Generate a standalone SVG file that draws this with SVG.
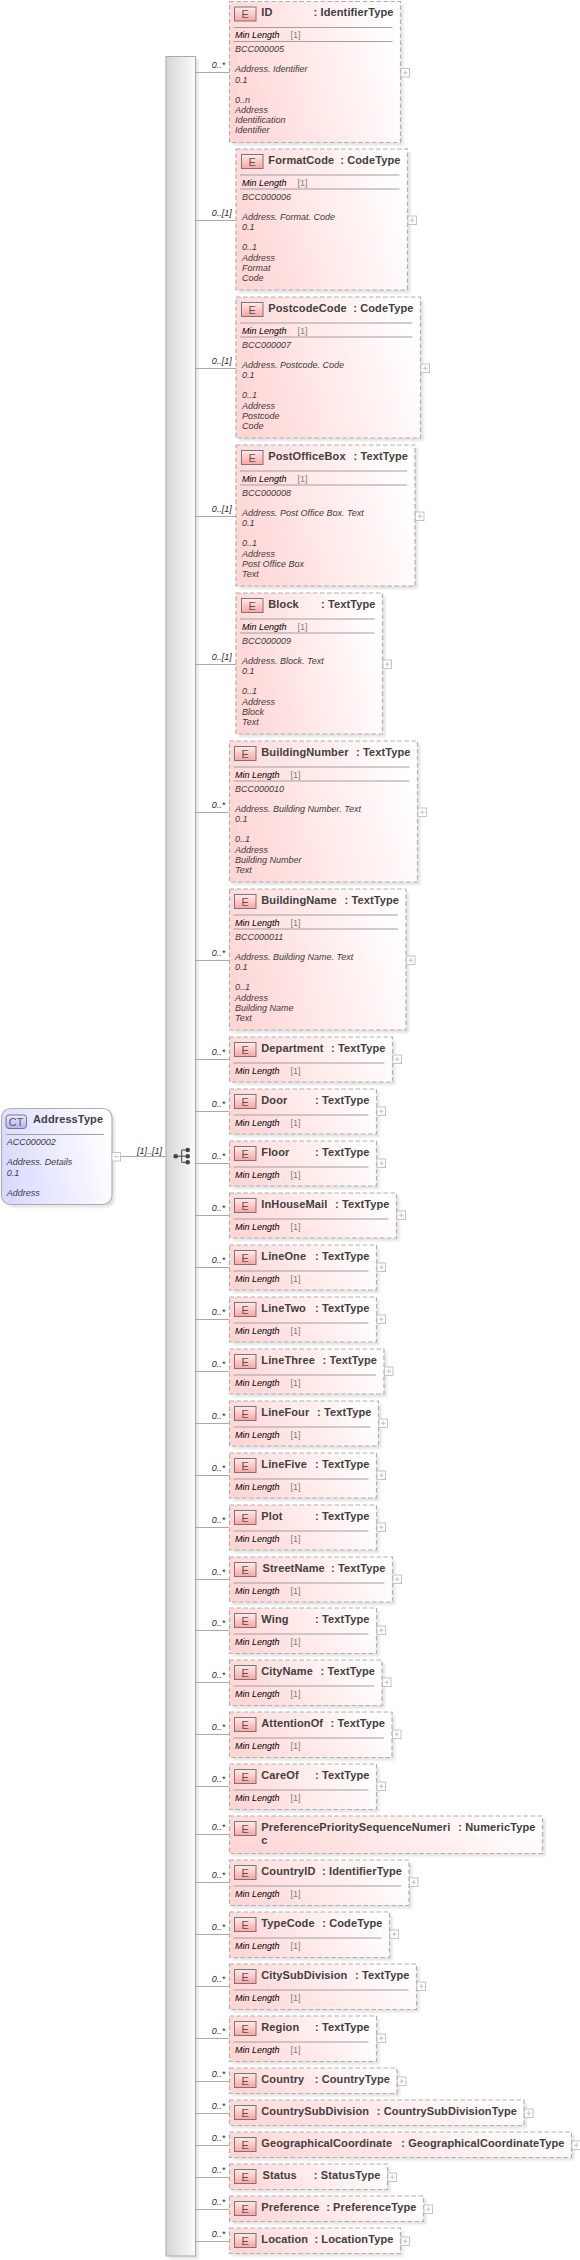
<svg xmlns="http://www.w3.org/2000/svg" width="580" height="2260" viewBox="0 0 580 2260">
<style>
text{font-family:"Liberation Sans",Arial,sans-serif}
.t{font-size:11px;font-weight:700;fill:#404040;letter-spacing:.12px}
.e{font-size:11px;fill:#555;text-anchor:middle}
.i{font-size:9px;font-style:italic;fill:#3c3c3c}
.m{font-size:9px;font-style:italic;fill:#000}
.c{font-size:9px;fill:#808080}
.l{font-size:9px;font-style:italic;fill:#2a2a2a}
.box{fill:url(#pink);stroke:#b0b0b0;stroke-width:1.2;stroke-dasharray:4.5 2.5}
.sh{fill:#000;opacity:.1;filter:url(#blur)}
.ic{fill:url(#iconE);stroke:#777;stroke-width:1}
.dv{stroke:#a0a0a0;stroke-width:1;fill:none}
.pb{fill:#fff;stroke:#c4c4c4;stroke-width:1}
.pg{stroke:#c4c4c4;stroke-width:1;fill:none}
.con{stroke:#aaa;stroke-width:1;fill:none}
</style>
<defs>
<linearGradient id="pink" x1="0" y1="0.6" x2="1" y2="0.4"><stop offset="0" stop-color="#ffd6d6"/><stop offset="1" stop-color="#fff"/></linearGradient>
<linearGradient id="blue" x1="0" y1="0.6" x2="1" y2="0.4"><stop offset="0" stop-color="#d9d9ff"/><stop offset="1" stop-color="#fff"/></linearGradient>
<linearGradient id="iconE" x1="0" y1="0" x2="0" y2="1"><stop offset="0" stop-color="#ffecec"/><stop offset="1" stop-color="#ffa4a4"/></linearGradient>
<linearGradient id="iconC" x1="0" y1="0" x2="0" y2="1"><stop offset="0" stop-color="#ececff"/><stop offset="1" stop-color="#b0b0f4"/></linearGradient>
<linearGradient id="bar" x1="0" y1="0" x2="1" y2="0"><stop offset="0" stop-color="#d6d6d6"/><stop offset="1" stop-color="#fbfbfb"/></linearGradient>
<filter id="blur" x="-5%" y="-5%" width="110%" height="110%"><feGaussianBlur stdDeviation="1.2"/></filter>
<path id="plus" class="pg" d="M2 4.250H6.500M4.250 2V6.500"/>
</defs>

<g id="compositor">
<rect class="sh" x="169" y="59" width="29.500" height="2200"/>
<rect x="166" y="56.500" width="29.500" height="2199.500" fill="url(#bar)" stroke="#aaa" stroke-width="1"/>
<g fill="#444" stroke="#444" stroke-width="1">
<circle cx="175.700" cy="1156.200" r="2.300" stroke="none"/>
<path d="M175.700 1156.200H187.700M181.700 1150V1162.300M181.700 1150H187.700M181.700 1162.300H187.700" fill="none"/>
<circle cx="187.700" cy="1150" r="2.300" stroke="none"/><circle cx="187.700" cy="1156.200" r="2.300" stroke="none"/><circle cx="187.700" cy="1162.300" r="2.300" stroke="none"/>
</g>
</g>

<g id="connectors" class="con">
<path d="M121 1156.500H166"/>
<path d="M195.500 72.500H229.500M195.500 220.500H236M195.500 368.500H236M195.500 516.500H236M195.500 664.500H236M195.500 812.500H229.500M195.500 960.500H229.500M195.500 1059.500H229.500M195.500 1111.500H229.500M195.500 1163.500H229.500M195.500 1215.500H229.500M195.500 1267.500H229.500M195.500 1319.500H229.500M195.500 1371.500H229.500M195.500 1423.500H229.500M195.500 1475.500H229.500M195.500 1527.500H229.500M195.500 1579.500H229.500M195.500 1630.500H229.500M195.500 1682.500H229.500M195.500 1734.500H229.500M195.500 1786.500H229.500M195.500 1834.500H229.500M195.500 1882.500H229.500M195.500 1934.500H229.500M195.500 1986.500H229.500M195.500 2038.500H229.500M195.500 2081.500H229.500M195.500 2113.500H229.500M195.500 2145.500H229.500M195.500 2177.500H229.500M195.500 2209.500H229.500M195.500 2241.500H229.500"/>
</g>
<g id="connector-labels">
<text class="l" x="137" y="1154">[1]..[1]</text>
<text class="l" x="211.700" y="68">0..*</text><text class="l" x="211.700" y="216">0..[1]</text><text class="l" x="211.700" y="364">0..[1]</text><text class="l" x="211.700" y="512">0..[1]</text><text class="l" x="211.700" y="660">0..[1]</text><text class="l" x="211.700" y="808">0..*</text><text class="l" x="211.700" y="956">0..*</text><text class="l" x="211.700" y="1055">0..*</text><text class="l" x="211.700" y="1107">0..*</text><text class="l" x="211.700" y="1159">0..*</text><text class="l" x="211.700" y="1211">0..*</text><text class="l" x="211.700" y="1263">0..*</text><text class="l" x="211.700" y="1315">0..*</text><text class="l" x="211.700" y="1367">0..*</text><text class="l" x="211.700" y="1419">0..*</text><text class="l" x="211.700" y="1471">0..*</text><text class="l" x="211.700" y="1523">0..*</text><text class="l" x="211.700" y="1575">0..*</text><text class="l" x="211.700" y="1626">0..*</text><text class="l" x="211.700" y="1678">0..*</text><text class="l" x="211.700" y="1730">0..*</text><text class="l" x="211.700" y="1782">0..*</text><text class="l" x="211.700" y="1830">0..*</text><text class="l" x="211.700" y="1878">0..*</text><text class="l" x="211.700" y="1930">0..*</text><text class="l" x="211.700" y="1982">0..*</text><text class="l" x="211.700" y="2034">0..*</text><text class="l" x="211.700" y="2077">0..*</text><text class="l" x="211.700" y="2109">0..*</text><text class="l" x="211.700" y="2141">0..*</text><text class="l" x="211.700" y="2173">0..*</text><text class="l" x="211.700" y="2205">0..*</text><text class="l" x="211.700" y="2237">0..*</text>
</g>

<g id="AddressType">
<rect class="sh" x="4.500" y="1111" width="110.500" height="96.500" rx="9"/>
<rect x="1.500" y="1108.500" width="110.500" height="96" rx="9" fill="url(#blue)" stroke="#b0b0b0" stroke-width="1.200"/>
<rect x="6" y="1115" width="20.500" height="13.500" rx="3" fill="url(#iconC)" stroke="#777"/>
<text class="e" x="16.200" y="1126">CT</text>
<text class="t" x="33" y="1123">AddressType</text>
<path class="dv" d="M6 1134.500H104"/>
<text class="i" x="6.700" y="1145">ACC000002</text>
<text class="i" x="6.700" y="1165">Address. Details</text>
<text class="i" x="6.700" y="1175.500">0.1</text>
<text class="i" x="6.700" y="1196">Address</text>
<rect class="pb" x="112" y="1152.500" width="8.500" height="8.500"/>
<path class="pg" d="M114 1156.750H118.500"/>
</g>

<g id="ID" transform="translate(229.500,1.500)"><rect class="sh" x="3" y="3" width="171" height="141"/><rect class="box" width="171" height="141"/><rect class="ic" x="5" y="5.500" width="21.500" height="14"/><text class="e" x="15.700" y="16.500">E</text><text class="t" x="31.800" y="14.800">ID</text><text class="t" x="164" y="14.800" text-anchor="end">: IdentifierType</text><path class="dv" d="M4 26H163M4 40H163"/><text class="m" x="5.500" y="36.500">Min Length</text><text class="c" x="61" y="36.500">[1]</text><text class="i" x="5.500" y="50.500">BCC000005</text><text class="i" x="5.500" y="70.800">Address. Identifier</text><text class="i" x="5.500" y="81">0.1</text><text class="i" x="5.500" y="101.300">0..n</text><text class="i" x="5.500" y="111.500">Address</text><text class="i" x="5.500" y="121.600">Identification</text><text class="i" x="5.500" y="131.700">Identifier</text><rect class="pb" x="171.500" y="67" width="8.500" height="8.500"/><use href="#plus" x="171.500" y="67"/></g>

<g id="FormatCode" transform="translate(236,149)"><rect class="sh" x="3" y="3" width="171.500" height="141"/><rect class="box" width="171.500" height="141"/><rect class="ic" x="5.500" y="5.500" width="21.500" height="14"/><text class="e" x="16.200" y="16.500">E</text><text class="t" x="32.300" y="14.800">FormatCode</text><text class="t" x="164.500" y="14.800" text-anchor="end">: CodeType</text><path class="dv" d="M4 26H163.500M4 40H163.500"/><text class="m" x="6" y="36.500">Min Length</text><text class="c" x="61.500" y="36.500">[1]</text><text class="i" x="6" y="50.500">BCC000006</text><text class="i" x="6" y="70.800">Address. Format. Code</text><text class="i" x="6" y="81">0.1</text><text class="i" x="6" y="101.300">0..1</text><text class="i" x="6" y="111.500">Address</text><text class="i" x="6" y="121.600">Format</text><text class="i" x="6" y="131.700">Code</text><rect class="pb" x="172" y="67" width="8.500" height="8.500"/><use href="#plus" x="172" y="67"/></g>

<g id="PostcodeCode" transform="translate(236,297)"><rect class="sh" x="3" y="3" width="184.500" height="141"/><rect class="box" width="184.500" height="141"/><rect class="ic" x="5.500" y="5.500" width="21.500" height="14"/><text class="e" x="16.200" y="16.500">E</text><text class="t" x="32.300" y="14.800">PostcodeCode</text><text class="t" x="177.500" y="14.800" text-anchor="end">: CodeType</text><path class="dv" d="M4 26H176.500M4 40H176.500"/><text class="m" x="6" y="36.500">Min Length</text><text class="c" x="61.500" y="36.500">[1]</text><text class="i" x="6" y="50.500">BCC000007</text><text class="i" x="6" y="70.800">Address. Postcode. Code</text><text class="i" x="6" y="81">0.1</text><text class="i" x="6" y="101.300">0..1</text><text class="i" x="6" y="111.500">Address</text><text class="i" x="6" y="121.600">Postcode</text><text class="i" x="6" y="131.700">Code</text><rect class="pb" x="185" y="67" width="8.500" height="8.500"/><use href="#plus" x="185" y="67"/></g>

<g id="PostOfficeBox" transform="translate(236,445)"><rect class="sh" x="3" y="3" width="179" height="141"/><rect class="box" width="179" height="141"/><rect class="ic" x="5.500" y="5.500" width="21.500" height="14"/><text class="e" x="16.200" y="16.500">E</text><text class="t" x="32.300" y="14.800">PostOfficeBox</text><text class="t" x="172" y="14.800" text-anchor="end">: TextType</text><path class="dv" d="M4 26H171M4 40H171"/><text class="m" x="6" y="36.500">Min Length</text><text class="c" x="61.500" y="36.500">[1]</text><text class="i" x="6" y="50.500">BCC000008</text><text class="i" x="6" y="70.800">Address. Post Office Box. Text</text><text class="i" x="6" y="81">0.1</text><text class="i" x="6" y="101.300">0..1</text><text class="i" x="6" y="111.500">Address</text><text class="i" x="6" y="121.600">Post Office Box</text><text class="i" x="6" y="131.700">Text</text><rect class="pb" x="179.500" y="67" width="8.500" height="8.500"/><use href="#plus" x="179.500" y="67"/></g>

<g id="Block" transform="translate(236,593)"><rect class="sh" x="3" y="3" width="146.500" height="141"/><rect class="box" width="146.500" height="141"/><rect class="ic" x="5.500" y="5.500" width="21.500" height="14"/><text class="e" x="16.200" y="16.500">E</text><text class="t" x="32.300" y="14.800">Block</text><text class="t" x="139.500" y="14.800" text-anchor="end">: TextType</text><path class="dv" d="M4 26H138.500M4 40H138.500"/><text class="m" x="6" y="36.500">Min Length</text><text class="c" x="61.500" y="36.500">[1]</text><text class="i" x="6" y="50.500">BCC000009</text><text class="i" x="6" y="70.800">Address. Block. Text</text><text class="i" x="6" y="81">0.1</text><text class="i" x="6" y="101.300">0..1</text><text class="i" x="6" y="111.500">Address</text><text class="i" x="6" y="121.600">Block</text><text class="i" x="6" y="131.700">Text</text><rect class="pb" x="147" y="67" width="8.500" height="8.500"/><use href="#plus" x="147" y="67"/></g>

<g id="BuildingNumber" transform="translate(229.500,741)"><rect class="sh" x="3" y="3" width="188" height="141"/><rect class="box" width="188" height="141"/><rect class="ic" x="5" y="5.500" width="21.500" height="14"/><text class="e" x="15.700" y="16.500">E</text><text class="t" x="31.800" y="14.800">BuildingNumber</text><text class="t" x="181" y="14.800" text-anchor="end">: TextType</text><path class="dv" d="M4 26H180M4 40H180"/><text class="m" x="5.500" y="36.500">Min Length</text><text class="c" x="61" y="36.500">[1]</text><text class="i" x="5.500" y="50.500">BCC000010</text><text class="i" x="5.500" y="70.800">Address. Building Number. Text</text><text class="i" x="5.500" y="81">0.1</text><text class="i" x="5.500" y="101.300">0..1</text><text class="i" x="5.500" y="111.500">Address</text><text class="i" x="5.500" y="121.600">Building Number</text><text class="i" x="5.500" y="131.700">Text</text><rect class="pb" x="188.500" y="67" width="8.500" height="8.500"/><use href="#plus" x="188.500" y="67"/></g>

<g id="BuildingName" transform="translate(229.500,889)"><rect class="sh" x="3" y="3" width="176.500" height="141"/><rect class="box" width="176.500" height="141"/><rect class="ic" x="5" y="5.500" width="21.500" height="14"/><text class="e" x="15.700" y="16.500">E</text><text class="t" x="31.800" y="14.800">BuildingName</text><text class="t" x="169.500" y="14.800" text-anchor="end">: TextType</text><path class="dv" d="M4 26H168.500M4 40H168.500"/><text class="m" x="5.500" y="36.500">Min Length</text><text class="c" x="61" y="36.500">[1]</text><text class="i" x="5.500" y="50.500">BCC000011</text><text class="i" x="5.500" y="70.800">Address. Building Name. Text</text><text class="i" x="5.500" y="81">0.1</text><text class="i" x="5.500" y="101.300">0..1</text><text class="i" x="5.500" y="111.500">Address</text><text class="i" x="5.500" y="121.600">Building Name</text><text class="i" x="5.500" y="131.700">Text</text><rect class="pb" x="177" y="67" width="8.500" height="8.500"/><use href="#plus" x="177" y="67"/></g>

<g id="Department" transform="translate(229.500,1037)"><rect class="sh" x="3" y="3" width="163" height="45"/><rect class="box" width="163" height="45"/><rect class="ic" x="5" y="5.500" width="21.500" height="14"/><text class="e" x="15.700" y="16.500">E</text><text class="t" x="31.800" y="14.800">Department</text><text class="t" x="156" y="14.800" text-anchor="end">: TextType</text><path class="dv" d="M4 26H155"/><text class="m" x="5.500" y="36.500">Min Length</text><text class="c" x="61" y="36.500">[1]</text><rect class="pb" x="163.500" y="18" width="8.500" height="8.500"/><use href="#plus" x="163.500" y="18"/></g>

<g id="Door" transform="translate(229.500,1089)"><rect class="sh" x="3" y="3" width="147" height="45"/><rect class="box" width="147" height="45"/><rect class="ic" x="5" y="5.500" width="21.500" height="14"/><text class="e" x="15.700" y="16.500">E</text><text class="t" x="31.800" y="14.800">Door</text><text class="t" x="140" y="14.800" text-anchor="end">: TextType</text><path class="dv" d="M4 26H139"/><text class="m" x="5.500" y="36.500">Min Length</text><text class="c" x="61" y="36.500">[1]</text><rect class="pb" x="147.500" y="18" width="8.500" height="8.500"/><use href="#plus" x="147.500" y="18"/></g>

<g id="Floor" transform="translate(229.500,1141)"><rect class="sh" x="3" y="3" width="147" height="45"/><rect class="box" width="147" height="45"/><rect class="ic" x="5" y="5.500" width="21.500" height="14"/><text class="e" x="15.700" y="16.500">E</text><text class="t" x="31.800" y="14.800">Floor</text><text class="t" x="140" y="14.800" text-anchor="end">: TextType</text><path class="dv" d="M4 26H139"/><text class="m" x="5.500" y="36.500">Min Length</text><text class="c" x="61" y="36.500">[1]</text><rect class="pb" x="147.500" y="18" width="8.500" height="8.500"/><use href="#plus" x="147.500" y="18"/></g>

<g id="InHouseMail" transform="translate(229.500,1193)"><rect class="sh" x="3" y="3" width="167" height="45"/><rect class="box" width="167" height="45"/><rect class="ic" x="5" y="5.500" width="21.500" height="14"/><text class="e" x="15.700" y="16.500">E</text><text class="t" x="31.800" y="14.800">InHouseMail</text><text class="t" x="160" y="14.800" text-anchor="end">: TextType</text><path class="dv" d="M4 26H159"/><text class="m" x="5.500" y="36.500">Min Length</text><text class="c" x="61" y="36.500">[1]</text><rect class="pb" x="167.500" y="18" width="8.500" height="8.500"/><use href="#plus" x="167.500" y="18"/></g>

<g id="LineOne" transform="translate(229.500,1245)"><rect class="sh" x="3" y="3" width="147" height="45"/><rect class="box" width="147" height="45"/><rect class="ic" x="5" y="5.500" width="21.500" height="14"/><text class="e" x="15.700" y="16.500">E</text><text class="t" x="31.800" y="14.800">LineOne</text><text class="t" x="140" y="14.800" text-anchor="end">: TextType</text><path class="dv" d="M4 26H139"/><text class="m" x="5.500" y="36.500">Min Length</text><text class="c" x="61" y="36.500">[1]</text><rect class="pb" x="147.500" y="18" width="8.500" height="8.500"/><use href="#plus" x="147.500" y="18"/></g>

<g id="LineTwo" transform="translate(229.500,1297)"><rect class="sh" x="3" y="3" width="147" height="45"/><rect class="box" width="147" height="45"/><rect class="ic" x="5" y="5.500" width="21.500" height="14"/><text class="e" x="15.700" y="16.500">E</text><text class="t" x="31.800" y="14.800">LineTwo</text><text class="t" x="140" y="14.800" text-anchor="end">: TextType</text><path class="dv" d="M4 26H139"/><text class="m" x="5.500" y="36.500">Min Length</text><text class="c" x="61" y="36.500">[1]</text><rect class="pb" x="147.500" y="18" width="8.500" height="8.500"/><use href="#plus" x="147.500" y="18"/></g>

<g id="LineThree" transform="translate(229.500,1349)"><rect class="sh" x="3" y="3" width="154.500" height="45"/><rect class="box" width="154.500" height="45"/><rect class="ic" x="5" y="5.500" width="21.500" height="14"/><text class="e" x="15.700" y="16.500">E</text><text class="t" x="31.800" y="14.800">LineThree</text><text class="t" x="147.500" y="14.800" text-anchor="end">: TextType</text><path class="dv" d="M4 26H146.500"/><text class="m" x="5.500" y="36.500">Min Length</text><text class="c" x="61" y="36.500">[1]</text><rect class="pb" x="155" y="18" width="8.500" height="8.500"/><use href="#plus" x="155" y="18"/></g>

<g id="LineFour" transform="translate(229.500,1401)"><rect class="sh" x="3" y="3" width="149" height="45"/><rect class="box" width="149" height="45"/><rect class="ic" x="5" y="5.500" width="21.500" height="14"/><text class="e" x="15.700" y="16.500">E</text><text class="t" x="31.800" y="14.800">LineFour</text><text class="t" x="142" y="14.800" text-anchor="end">: TextType</text><path class="dv" d="M4 26H141"/><text class="m" x="5.500" y="36.500">Min Length</text><text class="c" x="61" y="36.500">[1]</text><rect class="pb" x="149.500" y="18" width="8.500" height="8.500"/><use href="#plus" x="149.500" y="18"/></g>

<g id="LineFive" transform="translate(229.500,1453)"><rect class="sh" x="3" y="3" width="147" height="45"/><rect class="box" width="147" height="45"/><rect class="ic" x="5" y="5.500" width="21.500" height="14"/><text class="e" x="15.700" y="16.500">E</text><text class="t" x="31.800" y="14.800">LineFive</text><text class="t" x="140" y="14.800" text-anchor="end">: TextType</text><path class="dv" d="M4 26H139"/><text class="m" x="5.500" y="36.500">Min Length</text><text class="c" x="61" y="36.500">[1]</text><rect class="pb" x="147.500" y="18" width="8.500" height="8.500"/><use href="#plus" x="147.500" y="18"/></g>

<g id="Plot" transform="translate(229.500,1505)"><rect class="sh" x="3" y="3" width="147" height="45"/><rect class="box" width="147" height="45"/><rect class="ic" x="5" y="5.500" width="21.500" height="14"/><text class="e" x="15.700" y="16.500">E</text><text class="t" x="31.800" y="14.800">Plot</text><text class="t" x="140" y="14.800" text-anchor="end">: TextType</text><path class="dv" d="M4 26H139"/><text class="m" x="5.500" y="36.500">Min Length</text><text class="c" x="61" y="36.500">[1]</text><rect class="pb" x="147.500" y="18" width="8.500" height="8.500"/><use href="#plus" x="147.500" y="18"/></g>

<g id="StreetName" transform="translate(229.500,1557)"><rect class="sh" x="3" y="3" width="163" height="45"/><rect class="box" width="163" height="45"/><rect class="ic" x="5" y="5.500" width="21.500" height="14"/><text class="e" x="15.700" y="16.500">E</text><text class="t" x="33" y="14.800">StreetName</text><text class="t" x="156" y="14.800" text-anchor="end">: TextType</text><path class="dv" d="M4 26H155"/><text class="m" x="5.500" y="36.500">Min Length</text><text class="c" x="61" y="36.500">[1]</text><rect class="pb" x="163.500" y="18" width="8.500" height="8.500"/><use href="#plus" x="163.500" y="18"/></g>

<g id="Wing" transform="translate(229.500,1608)"><rect class="sh" x="3" y="3" width="147" height="45.500"/><rect class="box" width="147" height="45.500"/><rect class="ic" x="5" y="5.500" width="21.500" height="14"/><text class="e" x="15.700" y="16.500">E</text><text class="t" x="31.800" y="14.800">Wing</text><text class="t" x="140" y="14.800" text-anchor="end">: TextType</text><path class="dv" d="M4 26H139"/><text class="m" x="5.500" y="36.500">Min Length</text><text class="c" x="61" y="36.500">[1]</text><rect class="pb" x="147.500" y="18" width="8.500" height="8.500"/><use href="#plus" x="147.500" y="18"/></g>

<g id="CityName" transform="translate(229.500,1660)"><rect class="sh" x="3" y="3" width="152.500" height="45.500"/><rect class="box" width="152.500" height="45.500"/><rect class="ic" x="5" y="5.500" width="21.500" height="14"/><text class="e" x="15.700" y="16.500">E</text><text class="t" x="31.800" y="14.800">CityName</text><text class="t" x="145.500" y="14.800" text-anchor="end">: TextType</text><path class="dv" d="M4 26H144.500"/><text class="m" x="5.500" y="36.500">Min Length</text><text class="c" x="61" y="36.500">[1]</text><rect class="pb" x="153" y="18" width="8.500" height="8.500"/><use href="#plus" x="153" y="18"/></g>

<g id="AttentionOf" transform="translate(229.500,1712)"><rect class="sh" x="3" y="3" width="162.500" height="45.500"/><rect class="box" width="162.500" height="45.500"/><rect class="ic" x="5" y="5.500" width="21.500" height="14"/><text class="e" x="15.700" y="16.500">E</text><text class="t" x="31.800" y="14.800">AttentionOf</text><text class="t" x="155.500" y="14.800" text-anchor="end">: TextType</text><path class="dv" d="M4 26H154.500"/><text class="m" x="5.500" y="36.500">Min Length</text><text class="c" x="61" y="36.500">[1]</text><rect class="pb" x="163" y="18" width="8.500" height="8.500"/><use href="#plus" x="163" y="18"/></g>

<g id="CareOf" transform="translate(229.500,1764)"><rect class="sh" x="3" y="3" width="147" height="45.500"/><rect class="box" width="147" height="45.500"/><rect class="ic" x="5" y="5.500" width="21.500" height="14"/><text class="e" x="15.700" y="16.500">E</text><text class="t" x="31.800" y="14.800">CareOf</text><text class="t" x="140" y="14.800" text-anchor="end">: TextType</text><path class="dv" d="M4 26H139"/><text class="m" x="5.500" y="36.500">Min Length</text><text class="c" x="61" y="36.500">[1]</text><rect class="pb" x="147.500" y="18" width="8.500" height="8.500"/><use href="#plus" x="147.500" y="18"/></g>

<g id="PreferencePrioritySequenceNumeric" transform="translate(229.500,1816)"><rect class="sh" x="3" y="3" width="313" height="37.500"/><rect class="box" width="313" height="37.500"/><rect class="ic" x="5" y="5.500" width="21.500" height="14"/><text class="e" x="15.700" y="16.500">E</text><text class="t" x="31.800" y="14.800">PreferencePrioritySequenceNumeri</text><text class="t" x="31.800" y="27.500">c</text><text class="t" x="306" y="14.800" text-anchor="end">: NumericType</text></g>

<g id="CountryID" transform="translate(229.500,1860)"><rect class="sh" x="3" y="3" width="179.500" height="45.500"/><rect class="box" width="179.500" height="45.500"/><rect class="ic" x="5" y="5.500" width="21.500" height="14"/><text class="e" x="15.700" y="16.500">E</text><text class="t" x="31.800" y="14.800">CountryID</text><text class="t" x="172.500" y="14.800" text-anchor="end">: IdentifierType</text><path class="dv" d="M4 26H171.500"/><text class="m" x="5.500" y="36.500">Min Length</text><text class="c" x="61" y="36.500">[1]</text><rect class="pb" x="180" y="18" width="8.500" height="8.500"/><use href="#plus" x="180" y="18"/></g>

<g id="TypeCode" transform="translate(229.500,1912)"><rect class="sh" x="3" y="3" width="160" height="45.500"/><rect class="box" width="160" height="45.500"/><rect class="ic" x="5" y="5.500" width="21.500" height="14"/><text class="e" x="15.700" y="16.500">E</text><text class="t" x="31.800" y="14.800">TypeCode</text><text class="t" x="153" y="14.800" text-anchor="end">: CodeType</text><path class="dv" d="M4 26H152"/><text class="m" x="5.500" y="36.500">Min Length</text><text class="c" x="61" y="36.500">[1]</text><rect class="pb" x="160.500" y="18" width="8.500" height="8.500"/><use href="#plus" x="160.500" y="18"/></g>

<g id="CitySubDivision" transform="translate(229.500,1964)"><rect class="sh" x="3" y="3" width="187" height="45.500"/><rect class="box" width="187" height="45.500"/><rect class="ic" x="5" y="5.500" width="21.500" height="14"/><text class="e" x="15.700" y="16.500">E</text><text class="t" x="31.800" y="14.800">CitySubDivision</text><text class="t" x="180" y="14.800" text-anchor="end">: TextType</text><path class="dv" d="M4 26H179"/><text class="m" x="5.500" y="36.500">Min Length</text><text class="c" x="61" y="36.500">[1]</text><rect class="pb" x="187.500" y="18" width="8.500" height="8.500"/><use href="#plus" x="187.500" y="18"/></g>

<g id="Region" transform="translate(229.500,2016)"><rect class="sh" x="3" y="3" width="147" height="45.500"/><rect class="box" width="147" height="45.500"/><rect class="ic" x="5" y="5.500" width="21.500" height="14"/><text class="e" x="15.700" y="16.500">E</text><text class="t" x="31.800" y="14.800">Region</text><text class="t" x="140" y="14.800" text-anchor="end">: TextType</text><path class="dv" d="M4 26H139"/><text class="m" x="5.500" y="36.500">Min Length</text><text class="c" x="61" y="36.500">[1]</text><rect class="pb" x="147.500" y="18" width="8.500" height="8.500"/><use href="#plus" x="147.500" y="18"/></g>

<g id="Country" transform="translate(229.500,2068)"><rect class="sh" x="3" y="3" width="167.500" height="25.500"/><rect class="box" width="167.500" height="25.500"/><rect class="ic" x="5" y="5.500" width="21.500" height="14"/><text class="e" x="15.700" y="16.500">E</text><text class="t" x="31.800" y="14.800">Country</text><text class="t" x="160.500" y="14.800" text-anchor="end">: CountryType</text><rect class="pb" x="168" y="9" width="8.500" height="8.500"/><use href="#plus" x="168" y="9"/></g>

<g id="CountrySubDivision" transform="translate(229.500,2100)"><rect class="sh" x="3" y="3" width="294.500" height="25.500"/><rect class="box" width="294.500" height="25.500"/><rect class="ic" x="5" y="5.500" width="21.500" height="14"/><text class="e" x="15.700" y="16.500">E</text><text class="t" x="31.800" y="14.800">CountrySubDivision</text><text class="t" x="287.500" y="14.800" text-anchor="end">: CountrySubDivisionType</text><rect class="pb" x="295" y="9" width="8.500" height="8.500"/><use href="#plus" x="295" y="9"/></g>

<g id="GeographicalCoordinate" transform="translate(229.500,2132)"><rect class="sh" x="3" y="3" width="342" height="25.500"/><rect class="box" width="342" height="25.500"/><rect class="ic" x="5" y="5.500" width="21.500" height="14"/><text class="e" x="15.700" y="16.500">E</text><text class="t" x="31.800" y="14.800">GeographicalCoordinate</text><text class="t" x="335" y="14.800" text-anchor="end">: GeographicalCoordinateType</text><rect class="pb" x="342.500" y="9" width="8.500" height="8.500"/><use href="#plus" x="342.500" y="9"/></g>

<g id="Status" transform="translate(229.500,2164)"><rect class="sh" x="3" y="3" width="158" height="25.500"/><rect class="box" width="158" height="25.500"/><rect class="ic" x="5" y="5.500" width="21.500" height="14"/><text class="e" x="15.700" y="16.500">E</text><text class="t" x="33" y="14.800">Status</text><text class="t" x="151" y="14.800" text-anchor="end">: StatusType</text><rect class="pb" x="158.500" y="9" width="8.500" height="8.500"/><use href="#plus" x="158.500" y="9"/></g>

<g id="Preference" transform="translate(229.500,2196)"><rect class="sh" x="3" y="3" width="194" height="25.500"/><rect class="box" width="194" height="25.500"/><rect class="ic" x="5" y="5.500" width="21.500" height="14"/><text class="e" x="15.700" y="16.500">E</text><text class="t" x="31.800" y="14.800">Preference</text><text class="t" x="187" y="14.800" text-anchor="end">: PreferenceType</text><rect class="pb" x="194.500" y="9" width="8.500" height="8.500"/><use href="#plus" x="194.500" y="9"/></g>

<g id="Location" transform="translate(229.500,2228)"><rect class="sh" x="3" y="3" width="171" height="25.500"/><rect class="box" width="171" height="25.500"/><rect class="ic" x="5" y="5.500" width="21.500" height="14"/><text class="e" x="15.700" y="16.500">E</text><text class="t" x="31.800" y="14.800">Location</text><text class="t" x="164" y="14.800" text-anchor="end">: LocationType</text><rect class="pb" x="171.500" y="9" width="8.500" height="8.500"/><use href="#plus" x="171.500" y="9"/></g>
</svg>
